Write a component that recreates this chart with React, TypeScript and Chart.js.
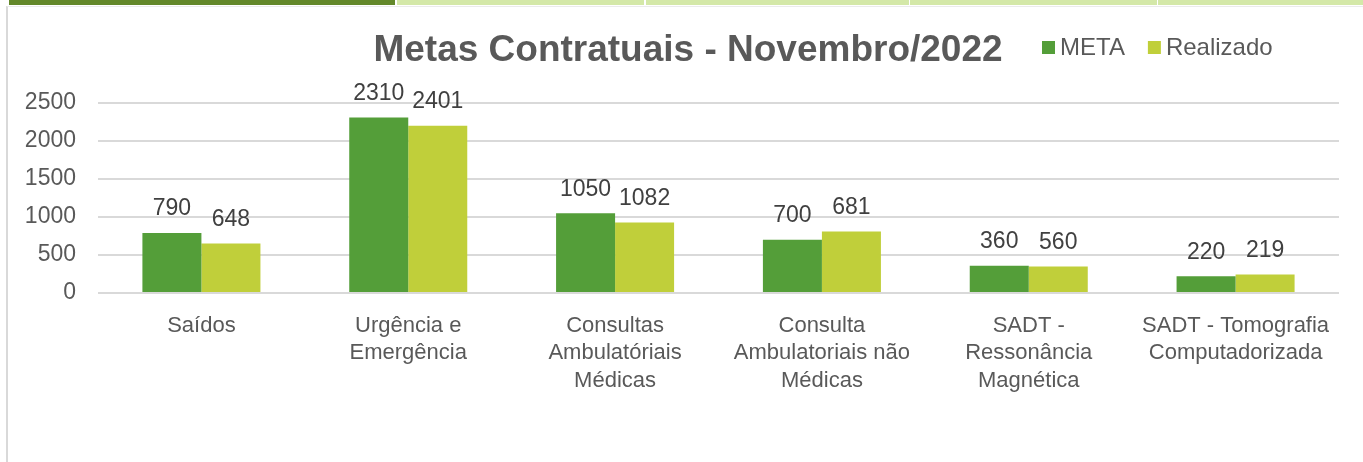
import React, { useEffect, useRef } from "react";
import { Chart, registerables } from "chart.js";

Chart.register(...registerables);

const chartTitle = "Metas Contratuais - Novembro/2022";
const categories: string[][] = [
  ["Saídos"],
  ["Urgência e", "Emergência"],
  ["Consultas", "Ambulatóriais", "Médicas"],
  ["Consulta", "Ambulatoriais não", "Médicas"],
  ["SADT -", "Ressonância", "Magnética"],
  ["SADT - Tomografia", "Computadorizada"],
];
const seriesNames = ["META", "Realizado"];
const metaValues = [790, 2310, 1050, 700, 360, 220];
const realizadoValues = [650, 2200, 928, 809, 350, 245];
const metaLabels = ["790", "2310", "1050", "700", "360", "220"];
const realizadoLabels = ["648", "2401", "1082", "681", "560", "219"];
const yMin = 0;
const yMax = 2500;
const yStep = 500;

const FONT = "'Liberation Sans', Arial, sans-serif";
const META_COLOR = "#549e39";
const REAL_COLOR = "#c0cf3a";

const W = 1363;
const H = 462;

export default function App() {
  const canvasRef = useRef<HTMLCanvasElement | null>(null);

  useEffect(() => {
    const canvas = canvasRef.current;
    if (!canvas) return;
    const valueLabels = [metaLabels, realizadoLabels];

    const overlayPlugin = {
      id: "overlay",
      afterDatasetsDraw(chart: any) {
        const ctx = chart.ctx;
        ctx.save();
        ctx.font = `23px ${FONT}`;
        ctx.fillStyle = "#404040";
        ctx.textAlign = "center";
        ctx.textBaseline = "middle";
        chart.data.datasets.forEach((_ds: any, di: number) => {
          const meta = chart.getDatasetMeta(di);
          meta.data.forEach((el: any, i: number) => {
            ctx.fillText(valueLabels[di][i], el.x, el.y - 24);
          });
        });
        ctx.restore();
      },
      afterDraw(chart: any) {
        const ctx = chart.ctx;
        ctx.save();
        // title
        ctx.font = `bold 37px ${FONT}`;
        ctx.fillStyle = "#595959";
        ctx.textAlign = "center";
        ctx.textBaseline = "alphabetic";
        ctx.fillText(chartTitle, 688, 61);
        // legend
        ctx.font = `24px ${FONT}`;
        ctx.textAlign = "left";
        let x = 1042;
        chart.data.datasets.forEach((ds: any) => {
          ctx.fillStyle = ds.backgroundColor;
          ctx.fillRect(x, 41, 13, 13);
          ctx.fillStyle = "#595959";
          ctx.fillText(ds.label, x + 18, 55);
          x += 18 + ctx.measureText(ds.label).width + 23;
        });
        ctx.restore();
      },
    };

    const chart = new Chart(canvas, {
      type: "bar",
      data: {
        labels: categories,
        datasets: [
          {
            label: seriesNames[0],
            data: metaValues,
            backgroundColor: META_COLOR,
            categoryPercentage: 0.5706,
            barPercentage: 1,
          },
          {
            label: seriesNames[1],
            data: realizadoValues,
            backgroundColor: REAL_COLOR,
            categoryPercentage: 0.5706,
            barPercentage: 1,
          },
        ],
      },
      options: {
        responsive: false,
        animation: false,
        devicePixelRatio: 1,
        layout: { padding: { left: 0, top: 103, right: 24, bottom: 0 } },
        plugins: {
          legend: { display: false },
          title: { display: false },
          tooltip: { enabled: false },
        },
        scales: {
          x: {
            grid: { display: false, drawTicks: false },
            border: { display: false },
            ticks: {
              autoSkip: false,
              maxRotation: 0,
              minRotation: 0,
              padding: 19,
              color: "#595959",
              font: { family: FONT, size: 22, lineHeight: 1.25 },
            },
            afterFit(scale: any) {
              scale.height = 169;
            },
          },
          y: {
            min: yMin,
            max: yMax,
            ticks: {
              stepSize: yStep,
              padding: 22,
              color: "#595959",
              font: { family: FONT, size: 23 },
              callback: (v: any) => String(v),
            },
            grid: { color: "#d9d9d9", lineWidth: 2, drawTicks: false },
            border: { display: false },
            afterFit(scale: any) {
              scale.width = 98;
            },
          },
        },
      },
      plugins: [overlayPlugin],
    } as any);

    return () => chart.destroy();
  }, []);

  const strip = (left: number, width: number, color: string) => (
    <div
      style={{
        position: "absolute",
        left,
        top: 0,
        width,
        height: 5,
        background: color,
      }}
    />
  );

  return (
    <div
      style={{
        position: "absolute",
        left: 0,
        top: 0,
        width: W,
        height: H,
        background: "#ffffff",
        overflow: "hidden",
      }}
    >
      {strip(9, 386, "#63882a")}
      {strip(397, 247, "#d4e8a8")}
      {strip(646, 263, "#d4e8a8")}
      {strip(910, 247, "#d4e8a8")}
      {strip(1158, 205, "#d4e8a8")}
      <div
        style={{
          position: "absolute",
          left: 6,
          top: 6,
          width: W - 6,
          height: H - 6,
          borderTop: "1px solid #ebebeb",
          borderLeft: "2px solid #d9d9d9",
          boxSizing: "border-box",
        }}
      />
      <canvas
        ref={canvasRef}
        width={W}
        height={H}
        style={{ position: "absolute", left: 0, top: 0, width: W, height: H }}
      />
    </div>
  );
}
